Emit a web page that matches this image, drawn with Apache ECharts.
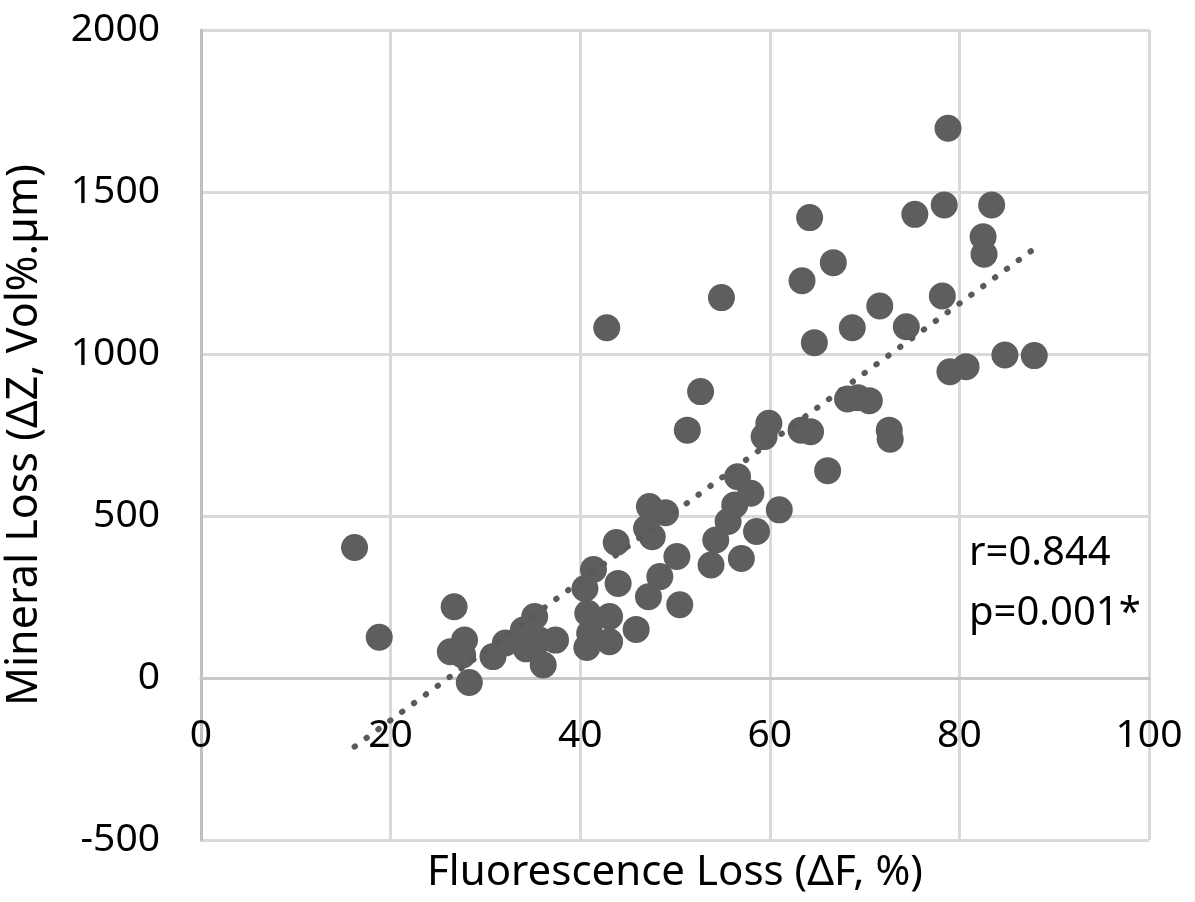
<!DOCTYPE html>
<html>
<head>
<meta charset="utf-8">
<script src="https://cdn.jsdelivr.net/npm/echarts@6/dist/echarts.min.js"></script>
<style>
  html, body { margin: 0; padding: 0; background: #fff; }
  #chart { width: 1195px; height: 902px; }
</style>
</head>
<body>
<div id="chart"></div>
<script>
// fluorescence loss (ΔF, %) vs mineral loss (ΔZ, Vol%.µm)
const fluorescenceLoss = [
  16.2, 18.8, 26.7, 26.3, 27.8, 27.6, 28.3, 30.8, 32.1, 34.0,
  35.2, 34.3, 35.7, 37.4, 36.1, 40.5, 41.4, 40.8, 41.0, 40.7,
  43.1, 43.1, 43.8, 44.0, 42.8, 45.9, 47.2, 47.3, 49.0, 47.0,
  47.6, 48.4, 50.2, 50.5, 51.3, 52.7, 54.9, 53.8, 54.3, 55.6,
  56.3, 56.6, 58.0, 57.0, 58.6, 61.0, 59.4, 59.9, 63.3, 64.3,
  63.4, 64.2, 64.7, 66.1, 66.7, 68.2, 69.3, 70.5, 68.7, 71.6,
  72.6, 72.7, 74.4, 75.3, 78.2, 78.4, 78.8, 79.0, 80.7, 82.5,
  82.6, 83.4, 84.8, 87.9
];
const mineralLoss = [
  403, 126, 220, 81, 117, 71, -14, 66, 108, 148,
  190, 90, 117, 117, 40, 276, 335, 200, 138, 94,
  190, 112, 418, 292, 1081, 150, 251, 529, 510, 462,
  436, 313, 375, 226, 765, 884, 1174, 349, 426, 483,
  534, 621, 570, 369, 452, 519, 745, 786, 765, 760,
  1226, 1421, 1035, 640, 1282, 861, 865, 856, 1081, 1148,
  765, 737, 1084, 1431, 1179, 1460, 1697, 945, 961, 1362,
  1308, 1460, 997, 995
];

// linear trend line end points (dotted)
const trendX = [16.2, 87.9];
const trendY = [-212, 1325];

const xTicks = [0, 100, 20];        // min, max, interval
const yTicks = [-500, 2000, 500];

const statsText = ['r=0.844', 'p=0.001*'];

const fontFamily = '"Noto Sans", "DejaVu Sans", sans-serif';
const markColor = '#5e5e5e';

const chart = echarts.init(document.getElementById('chart'), null, { renderer: 'canvas' });

const points = fluorescenceLoss.map((x, i) => [x, mineralLoss[i]]);
const trend = trendX.map((x, i) => [x, trendY[i]]);

// plot area
const gridTop = 30;
const gridBottom = 62;
const plotHeight = 902 - gridTop - gridBottom;
// x axis sits on the y = 0 line, so shift it up from the bottom edge
const zeroShift = plotHeight * (0 - yTicks[0]) / (yTicks[1] - yTicks[0]);

const options = {
  animation: false,
  backgroundColor: '#ffffff',
  grid: {
    left: 201,
    right: 46,
    top: gridTop,
    bottom: gridBottom,
    containLabel: false,
    outerBoundsMode: 'none',
  },
  xAxis: {
    type: 'value',
    position: 'bottom',
    offset: -zeroShift,
    min: xTicks[0],
    max: xTicks[1],
    interval: xTicks[2],
    name: 'Fluorescence Loss (ΔF, %)',
    nameLocation: 'middle',
    nameGap: 174,
    nameTextStyle: { fontFamily: fontFamily, fontSize: 42, color: '#000' },
    axisLine: { onZero: false, lineStyle: { color: '#c8c8c8', width: 3 } },
    axisTick: { show: false },
    axisLabel: { fontFamily: fontFamily, fontSize: 39, color: '#000', margin: 38 },
    splitLine: { show: true, lineStyle: { color: '#d9d9d9', width: 3 } },
  },
  yAxis: {
    type: 'value',
    min: yTicks[0],
    max: yTicks[1],
    interval: yTicks[2],
    name: 'Mineral Loss (ΔZ, Vol%.µm)',
    nameLocation: 'middle',
    nameGap: 155,
    nameTextStyle: { fontFamily: fontFamily, fontSize: 43, color: '#000' },
    axisLine: { show: true, lineStyle: { color: '#bfbfbf', width: 3 } },
    axisTick: { show: false },
    axisLabel: {
      fontFamily: fontFamily, fontSize: 39, color: '#000', margin: 41,
      formatter: v => String(v),
    },
    splitLine: { show: true, lineStyle: { color: '#d9d9d9', width: 3 } },
  },
  series: [
    {
      type: 'line',
      data: trend,
      symbol: 'none',
      silent: true,
      z: 3,
      lineStyle: {
        color: '#5a5a5a',
        width: 6,
        type: [0.5, 14.2],
        cap: 'round',
      },
    },
    {
      type: 'scatter',
      data: points,
      symbolSize: 27,
      z: 2,
      itemStyle: { color: markColor, opacity: 1 },
    },
  ],
  graphic: [
    {
      type: 'text',
      left: 969,
      top: 524,
      style: {
        text: statsText.join('\n'),
        font: '40px ' + fontFamily,
        fill: '#000',
        lineHeight: 60,
      },
    },
  ],
};

chart.setOption(options);

window.addEventListener('resize', () => {
  chart.resize();
});
</script>
</body>
</html>
